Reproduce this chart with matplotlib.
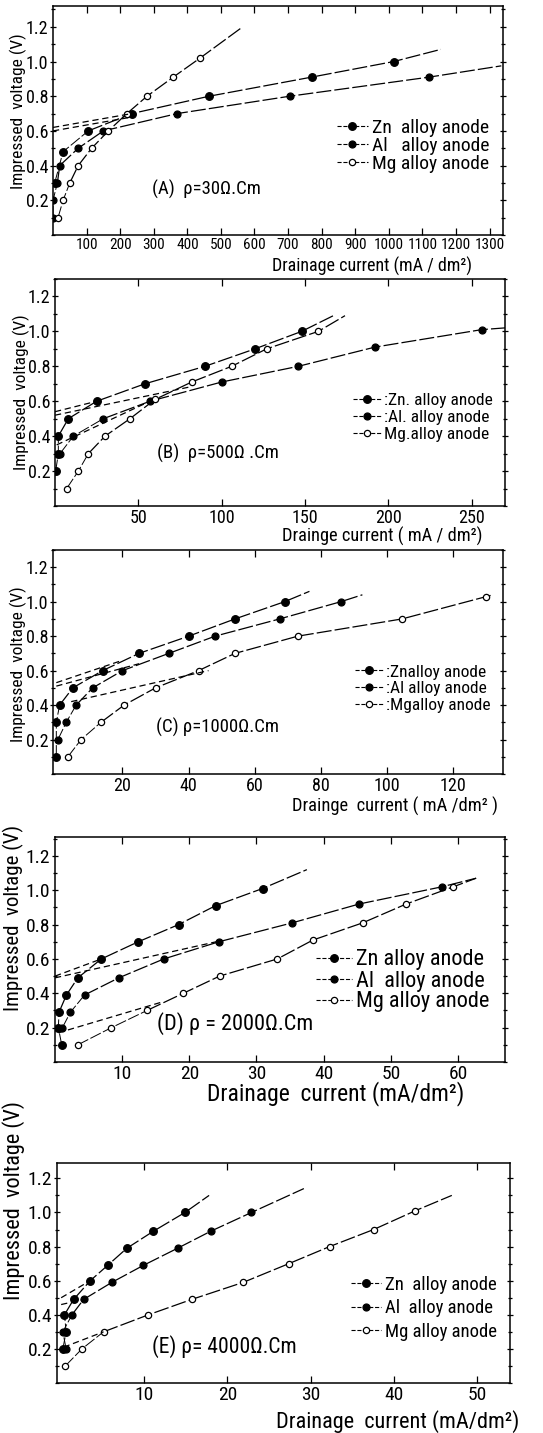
import matplotlib
matplotlib.use('Agg')
import matplotlib.pyplot as plt
from matplotlib.ticker import MultipleLocator

plt.rcParams['font.family'] = ['Liberation Sans Narrow', 'Roboto Condensed', 'Open Sans Condensed',
                               'DejaVu Sans']

# (A) rho = 30 ohm.cm
a_zn_x = [5, 30, 105, 235, 465, 770, 1015]
a_zn_y = [0.3, 0.48, 0.6, 0.7, 0.8, 0.91, 1.0]
a_zn_tail = (1155, 1.07)
a_al_x = [0, 0, 13, 20, 75, 150, 370, 705, 1120]
a_al_y = [0.1, 0.2, 0.3, 0.4, 0.5, 0.6, 0.7, 0.8, 0.91]
a_al_tail = (1335, 0.975)
a_mg_x = [15, 30, 50, 75, 115, 165, 220, 280, 358, 438]
a_mg_y = [0.1, 0.2, 0.3, 0.4, 0.5, 0.6, 0.7, 0.8, 0.91, 1.02]
a_mg_tail = (565, 1.2)
a_dash = [((0, 0.62), (235, 0.70)), ((0, 0.60), (235, 0.68))]

# (B) rho = 500 ohm.cm
b_zn_x = [0.4, 2, 2, 8, 25, 54, 90, 120, 148]
b_zn_y = [0.2, 0.3, 0.4, 0.5, 0.6, 0.7, 0.8, 0.9, 1.0]
b_zn_tail = (167, 1.09)
b_al_x = [3, 11, 29, 57, 100, 146, 192, 256]
b_al_y = [0.3, 0.4, 0.5, 0.6, 0.71, 0.8, 0.91, 1.01]
b_al_tail = (270, 1.02)
b_mg_x = [7, 14, 20, 30, 45, 60, 82, 106, 127, 158]
b_mg_y = [0.1, 0.2, 0.3, 0.4, 0.5, 0.61, 0.71, 0.8, 0.9, 1.0]
b_mg_tail = (174, 1.09)
b_dash = [((0, 0.54), (25, 0.60)), ((0, 0.52), (80, 0.68)), ((1, 0.35), (57, 0.60))]

# (C) rho = 1000 ohm.cm
c_zn_x = [0, 0, 1, 5, 14, 25, 40, 54, 69]
c_zn_y = [0.1, 0.3, 0.4, 0.5, 0.6, 0.7, 0.8, 0.9, 1.0]
c_zn_tail = (76.5, 1.06)
c_al_x = [0.5, 3, 6, 11, 20, 34, 48, 67.5, 86]
c_al_y = [0.2, 0.3, 0.4, 0.5, 0.6, 0.7, 0.8, 0.9, 1.0]
c_al_tail = (92.5, 1.04)
c_mg_x = [3.5, 7.5, 13.5, 20.5, 30, 43, 54, 73, 104.5, 130]
c_mg_y = [0.1, 0.2, 0.3, 0.4, 0.5, 0.6, 0.7, 0.8, 0.9, 1.03]
c_mg_tail = (132, 1.04)
c_dash = [((0, 0.53), (20, 0.66)), ((0, 0.51), (25, 0.64)), ((4.5, 0.42), (46, 0.60))]

# (D) rho = 2000 ohm.cm
d_zn_x = [1, 0.5, 0.6, 1.7, 3.4, 6.9, 12.4, 18.4, 23.9, 30.9]
d_zn_y = [0.1, 0.2, 0.29, 0.39, 0.49, 0.6, 0.7, 0.8, 0.91, 1.01]
d_zn_tail = (37.5, 1.12)
d_al_x = [1.1, 2.3, 4.4, 9.5, 16.2, 24.4, 35.3, 45.3, 57.6]
d_al_y = [0.2, 0.29, 0.39, 0.49, 0.6, 0.7, 0.81, 0.92, 1.02]
d_al_tail = (62.7, 1.07)
d_mg_x = [3.4, 8.4, 13.7, 19.1, 24.5, 33.1, 38.4, 45.8, 52.3, 59.3]
d_mg_y = [0.1, 0.2, 0.3, 0.4, 0.5, 0.6, 0.71, 0.81, 0.92, 1.02]
d_mg_tail = (62.7, 1.07)
d_dash = [((0, 0.50), (6.9, 0.60)), ((0, 0.49), (24, 0.70)), ((0.5, 0.17), (16, 0.35))]

# (E) rho = 4000 ohm.cm
e_zn_x = [0.2, 0.6, 0.4, 1.5, 3.5, 5.6, 7.9, 11.1, 14.9]
e_zn_y = [0.2, 0.3, 0.4, 0.49, 0.6, 0.69, 0.79, 0.89, 1.0]
e_zn_tail = (17.8, 1.1)
e_al_x = [0.6, 0.2, 1.3, 2.7, 6.1, 9.9, 14, 18, 22.9]
e_al_y = [0.2, 0.3, 0.4, 0.49, 0.59, 0.69, 0.79, 0.89, 1.0]
e_al_tail = (29.2, 1.14)
e_mg_x = [0.5, 2.5, 5.1, 10.5, 15.7, 21.9, 27.4, 32.3, 37.6, 42.6]
e_mg_y = [0.1, 0.2, 0.3, 0.4, 0.49, 0.59, 0.7, 0.8, 0.9, 1.01]
e_mg_tail = (47, 1.1)
e_dash = [((0, 0.50), (3.5, 0.60)), ((0, 0.46), (2.7, 0.49)), ((0.3, 0.21), (5.1, 0.30))]

titles = ['(A)  \u03c1=30\u03a9.Cm', '(B)  \u03c1=500\u03a9 .Cm', '(C) \u03c1=1000\u03a9.Cm',
          '(D) \u03c1 = 2000\u03a9.Cm', '(E) \u03c1= 4000\u03a9.Cm']
xlabels = ['Drainage current (mA / dm\u00b2)', 'Drainge current ( mA / dm\u00b2)',
           'Drainge  current ( mA /dm\u00b2 )', 'Drainage  current (mA/dm\u00b2)',
           'Drainage  current (mA/dm\u00b2)']
legend_labels = [['Zn  alloy anode', 'Al   alloy anode', 'Mg alloy anode'],
                 [':Zn. alloy anode', ':Al. alloy anode', 'Mg.alloy anode'],
                 [':Znalloy anode', ':Al alloy anode', ':Mgalloy anode'],
                 ['Zn alloy anode', 'Al  alloy anode', 'Mg alloy anode'],
                 ['Zn  alloy anode', 'Al  alloy anode', 'Mg alloy anode']]
xlims = [(0, 1340), (0, 270), (-1, 135), (0, 67), (-0.5, 54)]
xsteps = [100, 50, 20, 10, 10]
ylims = [(0, 1.32), (0, 1.30), (0, 1.30), (0, 1.31), (0, 1.29)]

panels = [
    ((a_zn_x, a_zn_y, a_zn_tail), (a_al_x, a_al_y, a_al_tail), (a_mg_x, a_mg_y, a_mg_tail), a_dash),
    ((b_zn_x, b_zn_y, b_zn_tail), (b_al_x, b_al_y, b_al_tail), (b_mg_x, b_mg_y, b_mg_tail), b_dash),
    ((c_zn_x, c_zn_y, c_zn_tail), (c_al_x, c_al_y, c_al_tail), (c_mg_x, c_mg_y, c_mg_tail), c_dash),
    ((d_zn_x, d_zn_y, d_zn_tail), (d_al_x, d_al_y, d_al_tail), (d_mg_x, d_mg_y, d_mg_tail), d_dash),
    ((e_zn_x, e_zn_y, e_zn_tail), (e_al_x, e_al_y, e_al_tail), (e_mg_x, e_mg_y, e_mg_tail), e_dash),
]

# layout (pixels: left, right, top, bottom)
boxes = [(53, 503, 6, 235), (55, 505, 279, 506), (53, 503, 550, 774),
         (55, 505, 837, 1062), (57, 510, 1163, 1383)]
title_pos = [(0.22, 0.20), (0.226, 0.23), (0.23, 0.21), (0.227, 0.17), (0.21, 0.167)]
legend_y = [0.39, 0.39, 0.38, 0.36, 0.34]
xtick_size = [11, 13, 13, 14, 14]
ytick_size = [13, 13, 13, 14, 14]
ylabel_size = [12.5, 12.5, 12.5, 15, 16]
xlabel_size = [13, 13.2, 13.3, 17, 16]
title_size = [13.5, 13.5, 13.5, 16, 15.5]
legend_size = [14, 12.5, 12.5, 16, 13.5]
legend_gap = [0, 0.1, 0.1, 0, 0.3]
xlabel_pos = [(0.93, -0.095), (0.95, -0.09), (0.99, -0.1), (0.91, -0.085), (1.02, -0.125)]
ylabel_pos = [(-0.058, 0.54), (-0.055, 0.5), (-0.058, 0.49), (-0.068, 0.64), (-0.07, 0.83)]

W, H = 543, 1433
fig = plt.figure(figsize=(W / 100, H / 100), dpi=100)

line_style = (0, (12, 2.5))
for i, (zn, al, mg, dashes) in enumerate(panels):
    l, r, t, b = boxes[i]
    ax = fig.add_axes([l / W, 1 - b / H, (r - l) / W, (b - t) / H])
    ax.patch.set_alpha(0)
    handles = []
    for (xs, ys, tail), face, ms in [(zn, 'black', 5.5), (al, 'black', 5), (mg, 'white', 4.5)]:
        ax.plot(list(xs[2:]) + [tail[0]], list(ys[2:]) + [tail[1]], color='black',
                lw=0.9, ls=line_style)
        ax.plot(xs[:3], ys[:3], color='black', lw=0.7, ls=line_style)
        h, = ax.plot(xs, ys, ls='none', color='black', marker='o', ms=ms, mfc=face,
                     mec='black', mew=0.9)
        handles.append(h)
    for (x0, y0), (x1, y1) in dashes:
        ax.plot([x0, x1], [y0, y1], color='black', lw=0.9, ls=(0, (5, 3)))

    ax.set_xlim(*xlims[i])
    ax.set_ylim(*ylims[i])
    ax.xaxis.set_major_locator(MultipleLocator(xsteps[i]))
    ax.yaxis.set_minor_locator(MultipleLocator(0.1))
    ax.set_xticks([v for v in ax.get_xticks() if v > 0.5 and v <= xlims[i][1]])
    ax.set_yticks([0.2, 0.4, 0.6, 0.8, 1.0, 1.2])
    ax.set_yticklabels(['0.2', '0.4', '0.6', '0.8', '1.0', '1.2'])
    ax.tick_params(direction='in', top=True, right=True, which='both',
                   length=5, width=0.9, pad=2)
    ax.tick_params(axis='x', labelsize=xtick_size[i])
    ax.tick_params(axis='y', labelsize=ytick_size[i], pad=1)
    ax.tick_params(which='minor', length=3)
    ax.tick_params(axis='y', which='both', right=True, direction='inout')
    for s in ax.spines.values():
        s.set_linewidth(1.1)

    ax.set_ylabel('Impressed  voltage (V)', fontsize=ylabel_size[i])
    ax.yaxis.set_label_coords(*ylabel_pos[i])
    ax.set_xlabel(xlabels[i], fontsize=xlabel_size[i], ha='right')
    ax.xaxis.set_label_coords(*xlabel_pos[i])

    ax.text(title_pos[i][0], title_pos[i][1], titles[i], transform=ax.transAxes,
            fontsize=title_size[i], va='center')

    ax.legend(handles, legend_labels[i], loc='center right', bbox_to_anchor=(1.0, legend_y[i]),
              frameon=False, handlelength=1.6, handletextpad=0.2, labelspacing=legend_gap[i],
              borderaxespad=0.3, fontsize=legend_size[i])
    for lh in ax.get_legend().legend_handles:
        lh.set_linestyle('--')
        lh.set_linewidth(0.8)

fig.savefig('out.png', dpi=100)
